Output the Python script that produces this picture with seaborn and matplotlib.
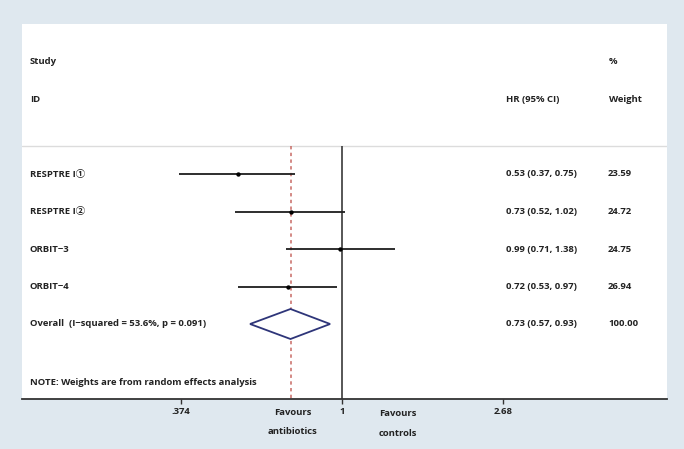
"""Forest plot: antibiotics vs controls, hazard ratios with random-effects pooling."""

import matplotlib.pyplot as plt
import numpy as np
import pandas as pd
import seaborn as sns
from matplotlib.transforms import blended_transform_factory

sns.set_theme(style="white")
plt.rcParams["font.family"] = ["Liberation Sans Narrow", "Open Sans",
                               "Noto Sans CJK SC", "DejaVu Sans"]

BG_COLOR = "#dfe8ef"
FONT_SIZE = 6.8
TEXT_COLOR = "#222222"

# study data
studies = ["RESPTRE I①", "RESPTRE I②", "ORBIT−3", "ORBIT−4"]
hr = [0.53, 0.73, 0.99, 0.72]
ci_low = [0.37, 0.52, 0.71, 0.53]
ci_high = [0.75, 1.02, 1.38, 0.97]
weights = ["23.59", "24.72", "24.75", "26.94"]

overall_label = "Overall  (I−squared = 53.6%, p = 0.091)"
overall_hr = 0.73
overall_low = 0.57
overall_high = 0.93
overall_weight = "100.00"

tick_values = [0.374, 1.0, 2.68]
tick_labels = [".374", "1", "2.68"]

rows = np.arange(1, len(studies) + 1)
overall_row = len(studies) + 1

df = pd.DataFrame({"study": studies, "hr": hr, "low": ci_low, "high": ci_high,
                   "weight": weights, "row": rows})

fig = plt.figure(figsize=(6.84, 4.49), dpi=100, facecolor=BG_COLOR)
ax = fig.add_axes([22 / 684, 50 / 449, 645 / 684, 375 / 449])
ax.set_facecolor("white")

ax.set_xscale("log")
ax.set_xlim(0.1413, 7.30)
ax.set_ylim(7.0, -3.0)

# header separator
ax.axhline(0.25, color="#dcdcdc", linewidth=1.0)

# reference lines
ax.vlines(1.0, 0.25, 7.0, color="#3a3a3a", linewidth=1.2, zorder=2)
ax.vlines(overall_hr, 0.25, 7.0, color="#c86a64", linewidth=1.1,
          linestyles=(0, (2.2, 2.2)), zorder=2)

# confidence intervals and point estimates
ax.hlines(df["row"], df["low"], df["high"], color="#1e1e1e", linewidth=1.3, zorder=3)
sns.scatterplot(data=df, x="hr", y="row", ax=ax, color="black", s=10,
                edgecolor="black", linewidth=0, zorder=4, legend=False)

# pooled estimate diamond
ax.fill([overall_low, overall_hr, overall_high, overall_hr],
        [overall_row, overall_row - 0.4, overall_row, overall_row + 0.4],
        facecolor="white", edgecolor="#2e3579", linewidth=1.3, zorder=4)

# text columns
LABEL_X = 0.0124
HR_X = 0.750
WEIGHT_X = 0.9085
trans = blended_transform_factory(ax.transAxes, ax.transData)
text_kw = dict(transform=trans, va="center", fontsize=FONT_SIZE, color=TEXT_COLOR,
               fontweight="bold")
ax.text(LABEL_X, -2.0, "Study", **text_kw)
ax.text(LABEL_X, -1.0, "ID", **text_kw)
ax.text(0.751, -1.0, "HR (95% CI)", **text_kw)
ax.text(0.910, -2.0, "%", **text_kw)
ax.text(0.910, -1.0, "Weight", **text_kw)

for _, r in df.iterrows():
    ax.text(LABEL_X, r["row"], r["study"], **text_kw)
    ax.text(HR_X, r["row"], f"{r['hr']:.2f} ({r['low']:.2f}, {r['high']:.2f})", **text_kw)
    ax.text(WEIGHT_X, r["row"], r["weight"], **text_kw)

ax.text(LABEL_X, overall_row, overall_label, **text_kw)
ax.text(HR_X, overall_row,
        f"{overall_hr:.2f} ({overall_low:.2f}, {overall_high:.2f})", **text_kw)
ax.text(WEIGHT_X, overall_row, overall_weight, **text_kw)
ax.text(LABEL_X, 6.57, "NOTE: Weights are from random effects analysis", **text_kw)

# x axis
for side in ["top", "left", "right"]:
    ax.spines[side].set_visible(False)
ax.spines["bottom"].set_color("#333333")
ax.spines["bottom"].set_linewidth(1.3)
ax.set_xlabel("")
ax.set_ylabel("")
ax.set_yticks([])
ax.set_xticks(tick_values)
ax.set_xticklabels(tick_labels)
ax.minorticks_off()
ax.tick_params(axis="x", bottom=True, length=3.5, width=1.0, color="#333333",
               pad=2.5, labelsize=FONT_SIZE, labelcolor=TEXT_COLOR)
for lbl in ax.get_xticklabels():
    lbl.set_fontweight("bold")

fav_kw = dict(transform=ax.transAxes, va="center", fontsize=FONT_SIZE,
              color=TEXT_COLOR, fontweight="bold")
ax.text(0.420, -0.037, "Favours", ha="center", **fav_kw)
ax.text(0.420, -0.088, "antibiotics", ha="center", **fav_kw)
ax.text(0.553, -0.040, "Favours", ha="left", **fav_kw)
ax.text(0.553, -0.091, "controls", ha="left", **fav_kw)

fig.savefig("out.png", dpi=100, facecolor=BG_COLOR)
